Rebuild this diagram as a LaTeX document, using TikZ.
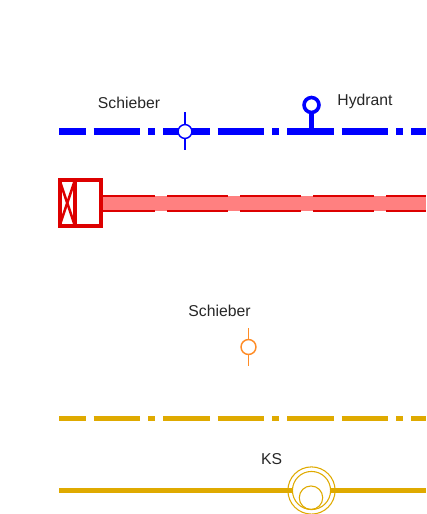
\documentclass[tikz,border=0pt]{standalone}
\usepackage{xcolor}
\usepackage{fontspec}
\setmainfont{Liberation Sans}
\definecolor{pipeblue}{HTML}{0000FF}
\definecolor{pipered}{HTML}{DD0000}
\definecolor{pipefill}{HTML}{FF8080}
\definecolor{pipeorange}{HTML}{FF8C26}
\definecolor{pipegold}{HTML}{DFAA00}
\tikzset{
  label text/.style={font=\fontsize{11.8pt}{14pt}\selectfont, text=black!85, inner sep=0pt},
  dash dot line/.style={dash pattern=on 34.8pt off 6pt on 34.8pt off 6pt on 5.4pt off 6pt, dash phase=15pt},
  valve/.style={circle, draw, fill=white, line width=1.1pt, inner sep=0pt},
  ks ring/.style={circle, draw=pipegold, line width=0.8pt, inner sep=0pt},
  red box/.style={rectangle, draw=pipered, line width=2.3pt, inner sep=0pt, outer sep=0pt},
  red edge/.style={draw=pipered, line width=1.5pt, dash pattern=on 45.75pt off 9pt, dash phase=6.5pt}
}

\begin{document}
\begin{tikzpicture}[x=0.75pt, y=-0.75pt]
  \useasboundingbox (0,0) rectangle (426,514);

  % Blue line with valve and hydrant
  \coordinate (blueStart) at (59.3,131.5);
  \coordinate (blueEnd) at (426,131.5);
  \coordinate (blueValveTop) at (185,112);
  \coordinate (blueValveBottom) at (185,150);
  \coordinate (hydrantFoot) at (311.5,131.5);
  \draw[pipeblue, line width=5pt, dash dot line] (blueStart) -- (blueEnd);
  \node[valve, draw=pipeblue, minimum size=10.4pt] (blueValve) at (185,131.5) {};
  \draw[pipeblue, line width=1.1pt] (blueValve) -- (blueValveTop);
  \draw[pipeblue, line width=1.1pt] (blueValve) -- (blueValveBottom);
  \node[circle, draw=pipeblue, line width=2.7pt, minimum size=11.2pt, inner sep=0pt] (hydrant) at (311.5,105) {};
  \draw[pipeblue, line width=4pt] (hydrant) -- (hydrantFoot);
  \node[label text] (labelBlueValve) at (129,102.5) {Schieber};
  \node[label text] (labelHydrant) at (365,101) {Hydrant};

  % Red pipe with box at its start
  \fill[pipefill] (102,196) rectangle (426,211);
  \coordinate (edgeTopStart) at (103,196);
  \coordinate (edgeTopEnd) at (426,196);
  \coordinate (edgeBottomStart) at (103,211);
  \coordinate (edgeBottomEnd) at (426,211);
  \draw[red edge] (edgeTopStart) -- (edgeTopEnd);
  \draw[red edge] (edgeBottomStart) -- (edgeBottomEnd);
  \node[red box, fill=white, minimum width=30.4pt, minimum height=34.5pt] (redBox) at (80.75,203) {};
  \node[red box, minimum width=11.6pt, minimum height=34.5pt] (redCross) at (67.25,203) {};
  \draw[pipered, line width=1.9pt] (redCross.north west) -- (redCross.south east);
  \draw[pipered, line width=1.9pt] (redCross.north east) -- (redCross.south west);

  % Orange valve
  \node[label text] (labelOrangeValve) at (219.5,311) {Schieber};
  \coordinate (orangeValveTop) at (248.5,328);
  \coordinate (orangeValveBottom) at (248.5,366);
  \node[valve, draw=pipeorange, minimum size=11.2pt] (orangeValve) at (248.5,347) {};
  \draw[pipeorange, line width=1.1pt] (orangeValve) -- (orangeValveTop);
  \draw[pipeorange, line width=1.1pt] (orangeValve) -- (orangeValveBottom);

  % Gold lines
  \coordinate (goldStart) at (59.3,418.7);
  \coordinate (goldEnd) at (426,418.7);
  \draw[pipegold, line width=3.5pt, dash dot line] (goldStart) -- (goldEnd);
  \coordinate (ksStart) at (59.3,490.5);
  \coordinate (ksEnd) at (426,490.5);
  \node[ks ring, minimum size=28.6pt] (ksMiddle) at (311.5,490.5) {};
  \draw[pipegold, line width=3.5pt] (ksStart) -- (ksMiddle) -- (ksEnd);
  \node[ks ring, minimum size=35.4pt] (ksOuter) at (311.5,490.5) {};
  \node[ks ring, minimum size=17.6pt] (ksInner) at (311,497.7) {};
  \node[label text] (labelKs) at (271.5,459) {KS};
\end{tikzpicture}
\end{document}
